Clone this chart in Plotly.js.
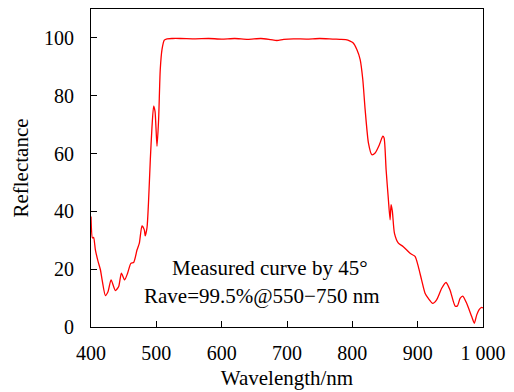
<!DOCTYPE html>
<html>
<head>
<meta charset="utf-8">
<script src="https://cdn.plot.ly/plotly-3.0.1.min.js"></script>
<style>html,body{margin:0;padding:0;background:#fff;}#chart{width:514px;height:392px;}</style>
</head>
<body>
<div id="chart"></div>
<script>
var wavelength = [400, 402.2, 404, 406.7, 410.9, 414.4, 417, 422, 426, 430.7, 437.3, 442.4, 446.5, 451.5, 456, 461, 465.3, 470.5, 474, 478, 481.6, 483, 485.8, 488, 490.8, 493.4, 495.9, 498, 501, 503.5, 506, 508.7, 512.2, 516.4, 525, 536.7, 560, 580, 600, 620, 640, 660, 675, 684.5, 695, 710, 730, 750, 770, 781, 790, 796.6, 801, 806.9, 812, 816, 819.6, 824.6, 829.8, 834.9, 841.5, 846.6, 848.6, 851.7, 855.2, 857.8, 859.3, 861.3, 864.4, 870.5, 878, 888.4, 896, 901, 906, 911.3, 916.3, 923, 929, 936.8, 943.4, 949.5, 957.2, 960.8, 964.9, 969, 975, 982.7, 986.7, 990.4, 994.3, 998, 1000];
var reflectance = [38.2, 30.8, 31, 26.7, 22.6, 19.8, 16.3, 10.9, 12.2, 16.3, 12.6, 14, 18.6, 16.3, 18.6, 22, 22.3, 26.7, 29, 35, 33.6, 31.5, 34.5, 43, 57.9, 69.4, 76.4, 74.6, 62.5, 71.8, 89, 96, 99.2, 99.7, 99.8, 99.8, 99.7, 99.8, 99.6, 99.8, 99.5, 99.8, 99.4, 99.1, 99.5, 99.7, 99.6, 99.8, 99.6, 99.5, 99.4, 98.9, 98.3, 96, 92.5, 85.6, 75.2, 63.7, 59.6, 60.2, 63.1, 66, 65.4, 54.4, 44, 37.1, 42.3, 40, 32.5, 29, 27.8, 25.5, 24.4, 20.9, 16.3, 11.7, 9.9, 8.2, 9.4, 13.4, 15.4, 12.8, 7.3, 7.3, 9.9, 10.7, 8.2, 3.6, 1.3, 4.2, 6.1, 6.8, 6.6];
var xTickVals = [400, 500, 600, 700, 800, 900, 1000];
var xTickText = ['400', '500', '600', '700', '800', '900', '1 000'];
var yTickVals = [0, 20, 40, 60, 80, 100];
var noteLines = ['Measured curve by 45°', 'Rave=99.5%@550\u2212750 nm'];

var font = 'Liberation Serif, Times New Roman, serif';
var trace = {
  x: wavelength, y: reflectance, type: 'scatter', mode: 'lines',
  line: {color: '#ff0000', width: 1.3, shape: 'spline', smoothing: 0.6},
  hoverinfo: 'skip', cliponaxis: false
};
var layout = {
  width: 514, height: 392,
  margin: {l: 91, r: 31, t: 9, b: 65},
  paper_bgcolor: '#fff', plot_bgcolor: '#fff',
  showlegend: false,
  font: {family: font, size: 20, color: '#000'},
  xaxis: {
    range: [400, 1000], tickvals: xTickVals, ticktext: xTickText,
    ticks: 'inside', ticklen: 6, tickcolor: '#000', tickwidth: 1,
    showline: true, linecolor: '#000', linewidth: 1, mirror: true,
    showgrid: false, zeroline: false, ticklabelstandoff: 8,
    tickfont: {family: font, size: 20, color: '#000'},
    title: {text: 'Wavelength/nm', font: {family: font, size: 21, color: '#000'}, standoff: 7}
  },
  yaxis: {
    range: [0, 110], tickvals: yTickVals,
    ticks: 'inside', ticklen: 6, tickcolor: '#000', tickwidth: 1,
    showline: true, linecolor: '#000', linewidth: 1, mirror: true,
    showgrid: false, zeroline: false, ticklabelstandoff: 12,
    tickfont: {family: font, size: 20, color: '#000'},
    title: {text: 'Reflectance', font: {family: font, size: 21, color: '#000'}, standoff: 9}
  },
  annotations: [
    {x: 674, y: 20.5, xref: 'x', yref: 'y', text: noteLines[0], showarrow: false, font: {family: font, size: 21, color: '#000'}},
    {x: 662, y: 10.7, xref: 'x', yref: 'y', text: noteLines[1], showarrow: false, font: {family: font, size: 21, color: '#000'}}
  ]
};
Plotly.newPlot('chart', [trace], layout, {displayModeBar: false, staticPlot: true});
</script>
</body>
</html>
